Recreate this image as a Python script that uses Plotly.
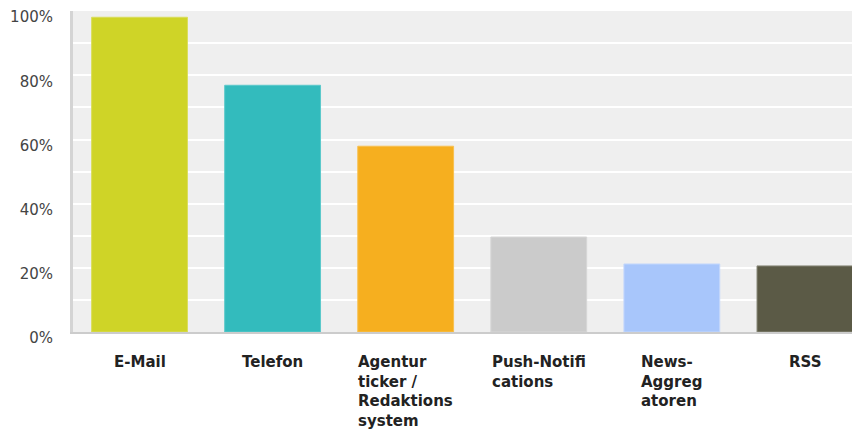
import plotly.graph_objects as go

categories = ["E-Mail", "Telefon", "Agentur ticker / Redaktions system",
              "Push-Notifications", "News-Aggregatoren", "RSS"]
label_lines = [["E-Mail"], ["Telefon"], ["Agentur", "ticker /", "Redaktions", "system"],
               ["Push-Notifi", "cations"], ["News-", "Aggreg", "atoren"], ["RSS"]]
values = [98.1, 76.9, 57.9, 29.6, 21.2, 20.6]
colors = ["#CFD427", "#33BBBD", "#F6AF1F", "#CBCBCB", "#A8C6FB", "#5B5A46"]
line_colors = ["#D9DD5A", "#5CC9CB", "#F8C050", "#D6D6D6", "#C4D8FC", "#8A8A7A"]
tick_vals = [0, 20, 40, 60, 80, 100]
tick_text = ["0%", "20%", "40%", "60%", "80%", "100%"]

fig = go.Figure()
fig.add_trace(go.Bar(
    x=categories, y=values,
    marker=dict(color=colors, line=dict(color=line_colors, width=1)),
    width=0.72, hoverinfo="skip",
))

for cat, lines in zip(categories, label_lines):
    fig.add_annotation(
        x=cat, y=0, xref="x", yref="y",
        text="<br>".join(lines), showarrow=False,
        xanchor="center", yanchor="top", align="left", yshift=-19,
        font=dict(family="DejaVu Sans", size=15, color="#222222", weight="bold"),
    )

# page body adds an 8px offset, so the figure is sized to fit the 860x435 window
fig.update_layout(
    width=852, height=427,
    margin=dict(l=65, r=0, t=3, b=103, autoexpand=False),
    paper_bgcolor="white", plot_bgcolor="#EFEFEF",
    showlegend=False, bargap=0.28,
    font=dict(family="DejaVu Sans", size=15, color="#444444"),
)
fig.update_xaxes(
    type="category", range=[-0.5, 5.414], showticklabels=False,
    showgrid=False, showline=True, linecolor="#CCCCCC", linewidth=2,
    ticks="", fixedrange=True, automargin=False,
)
fig.update_yaxes(
    range=[0, 100.05], tickvals=tick_vals, ticktext=tick_text,
    showgrid=True, gridcolor="#FFFFFF", gridwidth=2,
    minor=dict(dtick=10, tick0=0, showgrid=True, gridcolor="#FFFFFF", gridwidth=2),
    showline=True, linecolor="#D4D4D4", linewidth=3, zeroline=False,
    ticks="", ticklabelstandoff=14, ticklabelshift=6, ticklabeloverflow="allow",
    tickfont=dict(family="DejaVu Sans", size=15, color="#444444"),
    fixedrange=True, automargin=False,
)

fig.write_html("out.html")
